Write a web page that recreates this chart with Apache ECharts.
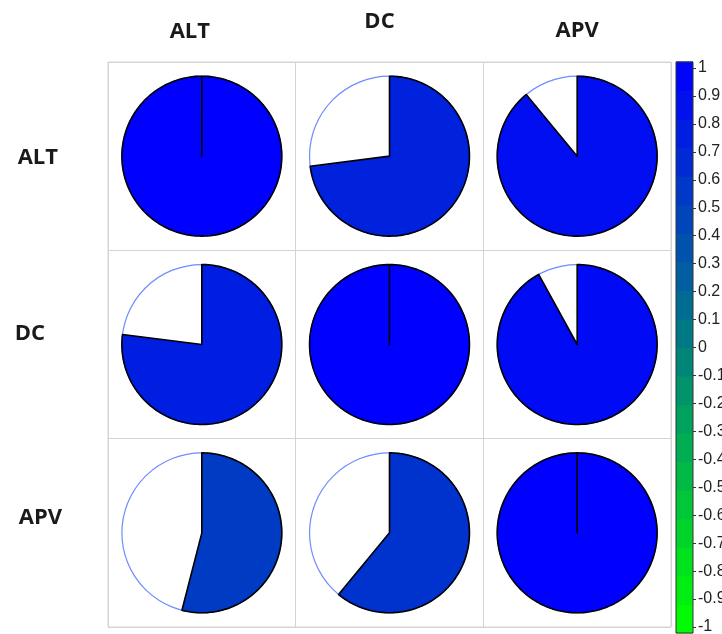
<!DOCTYPE html>
<html>
<head>
<meta charset="utf-8">
<script src="https://cdn.jsdelivr.net/npm/echarts@6/dist/echarts.min.js"></script>
<style>html,body{margin:0;padding:0;background:#fff;}#c{width:722px;height:634px;}</style>
</head>
<body>
<div id="c"></div>
<script>
// ---- data ----
const colLabels = ['ALT', 'DC', 'APV'];
const rowLabels = ['ALT', 'DC', 'APV'];
const rowALT = [1, 0.73, 0.89];
const rowDC = [0.77, 1, 0.92];
const rowAPV = [0.54, 0.61, 1];
const legendTickLabels = ['-1','-0.9','-0.8','-0.7','-0.6','-0.5','-0.4','-0.3','-0.2','-0.1','0','0.1','0.2','0.3','0.4','0.5','0.6','0.7','0.8','0.9','1'];
const legendBands = [-0.97,-0.87,-0.77,-0.66,-0.56,-0.46,-0.36,-0.26,-0.15,-0.05,0.05,0.15,0.26,0.36,0.46,0.56,0.66,0.77,0.87,0.97];

function colorFor(v) {
  const g = Math.round(255 * (1 - v) / 2);
  const b = Math.round(255 * (1 + v) / 2);
  return 'rgb(0,' + g + ',' + b + ')';
}

const rows = [rowALT, rowDC, rowAPV];
const pieData = [];
rows.forEach((r, ri) => r.forEach((v, ci) => pieData.push([ci, ri, v])));

const chart = echarts.init(document.getElementById('c'), null, {renderer: 'canvas'});
const labelFont = {fontFamily: 'Open Sans', fontWeight: 700, fontSize: 22, color: '#1a1a1a'};
const xPads = [[0,24,0,0],[0,20,10,0],[0,0,1,0]];
const barExt = 1.0215;

chart.setOption({
  animation: false,
  grid: [
    {left: 108, top: 62, width: 563, height: 565, show: true, borderColor: '#d4d4d4', borderWidth: 1,
     containLabel: false, outerBoundsMode: 'none'},
    {left: 676, top: 68, width: 17, height: 559, containLabel: false, outerBoundsMode: 'none'}
  ],
  xAxis: [
    {gridIndex: 0, type: 'category', position: 'top',
     data: colLabels.map((c, i) => ({value: c, textStyle: Object.assign({padding: xPads[i]}, labelFont)})),
     axisLine: {show: false}, axisTick: {show: false},
     axisLabel: {margin: 19},
     splitLine: {show: true, lineStyle: {color: '#d4d4d4', width: 1}}},
    {gridIndex: 1, type: 'category', data: ['bar'], show: false}
  ],
  yAxis: [
    {gridIndex: 0, type: 'category', inverse: true,
     data: rowLabels,
     axisLine: {show: false}, axisTick: {show: false},
     axisLabel: {margin: 46,
       formatter: function (v, i) {
         if (i === 0) return '{s0|}\n{t0|' + v + '}';
         return '{t' + i + '|' + v + '}\n{s' + i + '|}';
       },
       rich: {
         t0: Object.assign({padding: [0, 4, 0, 0]}, labelFont),
         t1: Object.assign({padding: [0, 17, 0, 0]}, labelFont),
         t2: Object.assign({padding: [0, 0, 0, 0]}, labelFont),
         s0: {height: 4, fontSize: 1},
         s1: {height: 22, fontSize: 1},
         s2: {height: 30, fontSize: 1}
       }},
     splitLine: {show: true, lineStyle: {color: '#d4d4d4', width: 1}}},
    {gridIndex: 1, type: 'value', min: -1, max: 1, interval: 0.1, position: 'right',
     axisLine: {show: false},
     axisTick: {show: true, length: 3, lineStyle: {color: '#333'}},
     splitLine: {show: false},
     axisLabel: {margin: 5, fontFamily: 'Liberation Sans', fontSize: 16, color: '#222',
       formatter: function (v) { const i = Math.round((v + 1) * 10); return legendTickLabels[i]; }}}
  ],
  series: [
    {
      type: 'custom', xAxisIndex: 0, yAxisIndex: 0, data: pieData, clip: false,
      renderItem: function (params, api) {
        const c = api.coord([api.value(0), api.value(1)]);
        const s = api.size([1, 1]);
        const r = Math.min(s[0], s[1]) * 0.426;
        const v = api.value(2);
        const pts = [[c[0], c[1]]];
        const N = 180;
        const sweep = 2 * Math.PI * Math.abs(v);
        const dir = v >= 0 ? 1 : -1;
        for (let k = 0; k <= N; k++) {
          const t = dir * sweep * k / N;
          pts.push([c[0] + r * Math.sin(t), c[1] - r * Math.cos(t)]);
        }
        return {type: 'group', children: [
          {type: 'circle', shape: {cx: c[0], cy: c[1], r: r}, style: {fill: '#fff', stroke: '#6f8cff', lineWidth: 1.2}},
          {type: 'polygon', shape: {points: pts}, style: {fill: colorFor(v), stroke: '#000', lineWidth: 1.6, lineJoin: 'round'}}
        ]};
      }
    },
    {
      type: 'custom', xAxisIndex: 1, yAxisIndex: 1, data: legendBands, clip: false,
      renderItem: function (params, api) {
        const v = api.value(1);
        const n = legendBands.length;
        const i = params.dataIndex;
        const step = 2 * barExt / n;
        const hiV = -barExt + step * (i + 1);
        const loV = -barExt + step * i;
        const top = api.coord([0, hiV]);
        const bot = api.coord([0, loV]);
        const w = api.size([1, 0])[0];
        const x = top[0] - w / 2;
        const children = [{type: 'rect', shape: {x: x, y: top[1] - 0.5, width: w, height: bot[1] - top[1] + 1},
          style: {fill: colorFor(v)}}];
        if (i === n - 1) {
          const t = api.coord([0, barExt]);
          const b = api.coord([0, -barExt]);
          children.push({type: 'rect', z2: 10, shape: {x: x, y: t[1], width: w, height: b[1] - t[1]},
            style: {fill: 'none', stroke: '#333', lineWidth: 1}});
        }
        return {type: 'group', children: children};
      },
      encode: {x: 0, y: 1}
    }
  ]
});
</script>
</body>
</html>
